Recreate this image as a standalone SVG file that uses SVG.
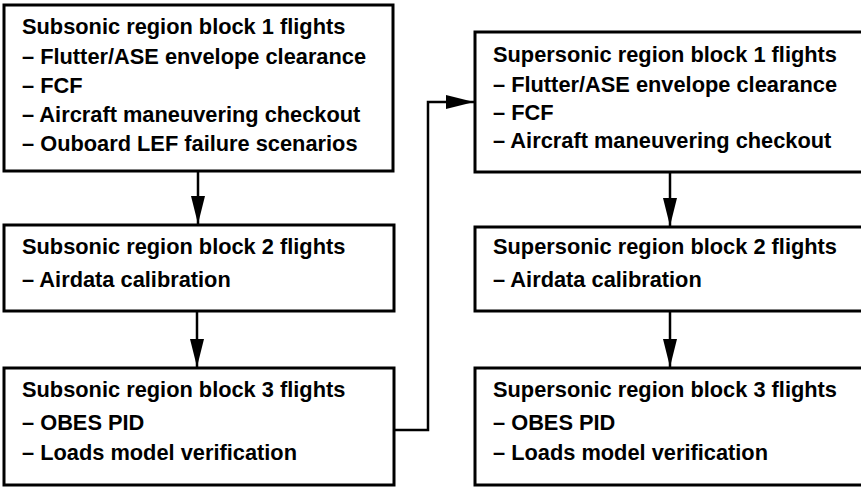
<svg xmlns="http://www.w3.org/2000/svg" width="861" height="488" viewBox="0 0 861 488">
<style>
.box{fill:#fff;stroke:#000;stroke-width:3}
.t{font-family:"Liberation Sans",Arial,Helvetica,sans-serif;font-weight:bold;font-size:21.8px;fill:#000}
.c{fill:none;stroke:#000;stroke-width:2.5}
</style>
<defs>
<marker id="ah" markerUnits="userSpaceOnUse" markerWidth="28" markerHeight="14" refX="28" refY="7" orient="auto">
<path d="M0,0 L28,7 L0,14 Z" fill="#000"/>
</marker>
</defs>
<rect width="861" height="488" fill="#fff"/>
<g id="connectors">
<line class="c" x1="198" y1="171" x2="198" y2="224" marker-end="url(#ah)"/>
<line class="c" x1="197" y1="311" x2="197" y2="367" marker-end="url(#ah)"/>
<line class="c" x1="670" y1="172" x2="670" y2="226" marker-end="url(#ah)"/>
<line class="c" x1="670" y1="311" x2="670" y2="367" marker-end="url(#ah)"/>
<polyline class="c" points="393,430 428,430 428,102 474,102" marker-end="url(#ah)"/>
</g>
<g id="sub1">
<rect class="box" x="4" y="5" width="389" height="166"/>
<text class="t" x="22" y="34">Subsonic region block 1 flights</text>
<text class="t" x="22" y="64">– Flutter/ASE envelope clearance</text>
<text class="t" x="22" y="93">– FCF</text>
<text class="t" x="22" y="122">– Aircraft maneuvering checkout</text>
<text class="t" x="22" y="151">– Ouboard LEF failure scenarios</text>
</g>
<g id="sub2">
<rect class="box" x="4" y="225" width="390" height="86"/>
<text class="t" x="22" y="254">Subsonic region block 2 flights</text>
<text class="t" x="22" y="287">– Airdata calibration</text>
</g>
<g id="sub3">
<rect class="box" x="4" y="368" width="390" height="117"/>
<text class="t" x="22" y="397">Subsonic region block 3 flights</text>
<text class="t" x="22" y="430">– OBES PID</text>
<text class="t" x="22" y="460">– Loads model verification</text>
</g>
<g id="sup1">
<rect class="box" x="475" y="32" width="400" height="140"/>
<text class="t" x="493" y="62">Supersonic region block 1 flights</text>
<text class="t" x="493" y="92">– Flutter/ASE envelope clearance</text>
<text class="t" x="493" y="120">– FCF</text>
<text class="t" x="493" y="148">– Aircraft maneuvering checkout</text>
</g>
<g id="sup2">
<rect class="box" x="475" y="227" width="400" height="84"/>
<text class="t" x="493" y="254">Supersonic region block 2 flights</text>
<text class="t" x="493" y="287">– Airdata calibration</text>
</g>
<g id="sup3">
<rect class="box" x="475" y="368" width="400" height="117"/>
<text class="t" x="493" y="397">Supersonic region block 3 flights</text>
<text class="t" x="493" y="430">– OBES PID</text>
<text class="t" x="493" y="460">– Loads model verification</text>
</g>
</svg>
